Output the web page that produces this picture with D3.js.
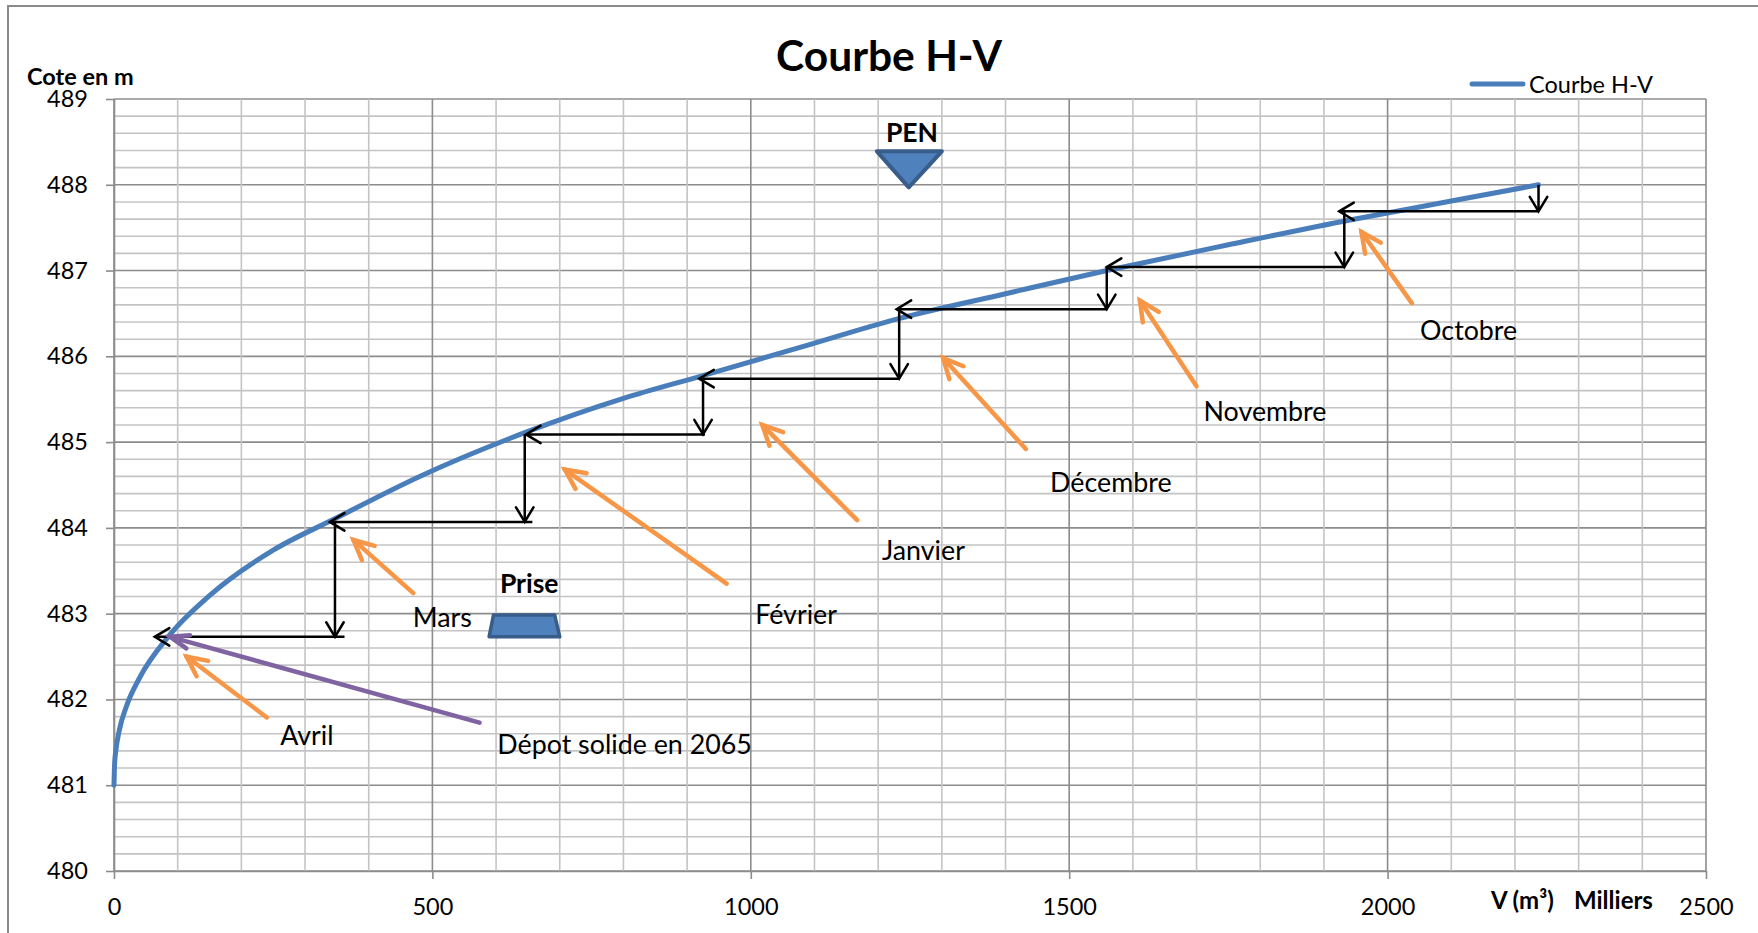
<!DOCTYPE html>
<html>
<head>
<meta charset="utf-8">
<script src="https://cdn.jsdelivr.net/npm/d3@7"></script>
<style>
  body { margin: 0; background: #fff; }
  text { font-family: Lato, "Liberation Sans", sans-serif; fill: #000; }
</style>
</head>
<body>
<script>
// courbe H-V : volume (milliers de m3) / cote (m)
var curveV = [0, 1, 3, 8, 20, 40, 85, 150, 250, 345, 480, 645, 800, 922, 1080, 1232, 1400, 1559, 1750, 1941, 2100, 2237];
var curveH = [481.0, 481.26, 481.41, 481.63, 481.93, 482.25, 482.73, 483.21, 483.74, 484.1, 484.6, 485.11, 485.51, 485.77, 486.11, 486.44, 486.73, 487.0, 487.3, 487.59, 487.81, 488.0];

var xTicks = [0, 500, 1000, 1500, 2000, 2500];
var yTicks = [480, 481, 482, 483, 484, 485, 486, 487, 488, 489];

// monthly steps (level drop then volume drop)
var months    = ["Octobre", "Novembre", "Décembre", "Janvier", "Février", "Mars", "Avril"];
var stepFromH = [488.0, 487.69, 487.04, 486.55, 485.74, 485.09, 484.07];
var stepToH   = [487.69, 487.04, 486.55, 485.74, 485.09, 484.07, 482.73];
var stepDropV = [2237, 1932, 1559, 1233, 925, 645, 347];
var stepEndV  = [2237, 1932, 1559, 1233, 928, 657, 362];
var stepTipV  = [1924, 1559, 1229, 919, 647, 339, 64];

// orange pointers + month labels
var pointerTailV = [2038, 1700, 1432, 1167, 962, 470, 240];
var pointerTailH = [486.62, 485.65, 484.92, 484.09, 483.35, 483.24, 481.79];
var pointerTipV  = [1959, 1611, 1302, 1018, 708, 376, 114];
var pointerTipH  = [487.45, 486.65, 485.98, 485.20, 484.68, 483.86, 482.50];
var labelV = [2051, 1711, 1470, 1206, 1007, 469, 261];
var labelH = [486.19, 485.25, 484.42, 483.63, 482.88, 482.85, 481.47];

// depot solide 2065
var depotV = [574, 88];
var depotH = [481.73, 482.73];

// prise / PEN shapes
var priseV = [596, 692, 700, 589];
var priseH = [482.985, 482.985, 482.73, 482.73];
var penV = [1198, 1300, 1248];
var penH = [488.39, 488.39, 487.97];

var W = 1758, H = 933;
var svg = d3.select("body").append("svg")
    .attr("width", W)
    .attr("height", H);

svg.append("rect")
    .attr("x", 0).attr("y", 0).attr("width", W).attr("height", H)
    .style("fill", "#fff");

// chart frame (cut at right / bottom)
svg.append("rect")
    .attr("x", 8).attr("y", 6).attr("width", 1800).attr("height", 1000)
    .style("fill", "none")
    .style("stroke", "#8a8a8a")
    .style("stroke-width", 2);

var x = d3.scaleLinear().domain([0, 2500]).range([114, 1706]);
var y = d3.scaleLinear().domain([480, 489]).range([871, 99]);

// grid
var grid = svg.append("g").attr("class", "grid");
grid.selectAll(".hminor")
    .data(y.ticks(45))
    .enter().append("line")
    .attr("x1", x(0)).attr("x2", x(2500))
    .attr("y1", function(d){ return y(d); })
    .attr("y2", function(d){ return y(d); })
    .style("stroke", function(d){ return Math.abs(d - Math.round(d)) < 1e-6 ? "#8c8c8c" : "#c4c4c4"; })
    .style("stroke-width", 1.6);
grid.selectAll(".vminor")
    .data(x.ticks(25))
    .enter().append("line")
    .attr("y1", y(480)).attr("y2", y(489))
    .attr("x1", function(d){ return x(d); })
    .attr("x2", function(d){ return x(d); })
    .style("stroke", function(d){ return d % 500 === 0 ? "#8c8c8c" : "#c4c4c4"; })
    .style("stroke-width", 1.6);

// axes
var yAxis = svg.append("g")
    .attr("transform", "translate(" + x(0) + ",0)")
    .call(d3.axisLeft(y).tickValues(yTicks).tickSize(8).tickSizeOuter(0).tickPadding(18));
var xAxis = svg.append("g")
    .attr("transform", "translate(0," + y(480) + ")")
    .call(d3.axisBottom(x).tickValues(xTicks).tickFormat(d3.format("d"))
        .tickSize(8).tickSizeOuter(0).tickPadding(19));
[yAxis, xAxis].forEach(function(a){
    a.select(".domain").style("stroke", "#8c8c8c").style("stroke-width", 1.6);
    a.selectAll(".tick line").style("stroke", "#8c8c8c").style("stroke-width", 1.6);
    a.selectAll(".tick text")
        .style("font-family", "Lato, 'Liberation Sans', sans-serif")
        .style("font-size", "23.5px")
        .style("fill", "#000");
});

// titles
svg.append("text")
    .attr("x", 889).attr("y", 71)
    .attr("text-anchor", "middle")
    .style("font-size", "42.5px").style("font-weight", "bold")
    .text("Courbe H-V");
svg.append("text")
    .attr("x", 27).attr("y", 85)
    .style("font-size", "23.5px").style("font-weight", "bold")
    .text("Cote en m");
svg.append("text")
    .attr("x", 1491).attr("y", 909)
    .style("font-size", "24px").style("font-weight", "bold")
    .text("V (m³)");
svg.append("text")
    .attr("x", 1574).attr("y", 909)
    .style("font-size", "24px").style("font-weight", "bold")
    .text("Milliers");

// legend
svg.append("line")
    .attr("x1", 1472).attr("x2", 1523).attr("y1", 84).attr("y2", 84)
    .style("stroke", "#4a7ebb").style("stroke-width", 5).style("stroke-linecap", "round");
svg.append("text")
    .attr("x", 1529).attr("y", 92.5)
    .style("font-size", "23.5px")
    .text("Courbe H-V");

// H-V curve
var curveData = curveV.map(function(v, i){ return [v, curveH[i]]; });
var line = d3.line()
    .x(function(d){ return x(d[0]); })
    .y(function(d){ return y(d[1]); })
    .curve(d3.curveMonotoneX);
svg.append("path")
    .datum(curveData)
    .attr("d", line)
    .style("fill", "none")
    .style("stroke", "#4a7ebb")
    .style("stroke-width", 5)
    .style("stroke-linecap", "round");

// open arrow head at tip, pointing away from "from"
function head(g, tip, from, len, ang, color, w){
    var a = Math.atan2(from[1] - tip[1], from[0] - tip[0]);
    var p1 = [tip[0] + len * Math.cos(a + ang), tip[1] + len * Math.sin(a + ang)];
    var p2 = [tip[0] + len * Math.cos(a - ang), tip[1] + len * Math.sin(a - ang)];
    g.append("path")
        .attr("d", "M" + p1 + "L" + tip + "L" + p2)
        .style("fill", "none")
        .style("stroke", color)
        .style("stroke-width", w)
        .style("stroke-linecap", "round")
        .style("stroke-linejoin", "miter");
}

// staircase of monthly operation
var steps = svg.append("g").attr("class", "steps");
months.forEach(function(m, i){
    var vx = x(stepDropV[i]);
    var top = [vx, y(stepFromH[i])], bot = [vx, y(stepToH[i])];
    steps.append("line")
        .attr("x1", top[0]).attr("y1", top[1]).attr("x2", bot[0]).attr("y2", bot[1])
        .style("stroke", "#000").style("stroke-width", 2.5);
    head(steps, bot, top, 17, 0.54, "#000", 2.5);
    var r = [x(stepEndV[i]), y(stepToH[i])], l = [x(stepTipV[i]), y(stepToH[i])];
    steps.append("line")
        .attr("x1", r[0]).attr("y1", r[1]).attr("x2", l[0]).attr("y2", l[1])
        .style("stroke", "#000").style("stroke-width", 2.5);
    head(steps, l, r, 17, 0.54, "#000", 2.5);
});

// orange pointers and month labels
var pointers = svg.append("g").attr("class", "pointers");
months.forEach(function(m, i){
    var tail = [x(pointerTailV[i]), y(pointerTailH[i])];
    var tip = [x(pointerTipV[i]), y(pointerTipH[i])];
    pointers.append("line")
        .attr("x1", tail[0]).attr("y1", tail[1]).attr("x2", tip[0]).attr("y2", tip[1])
        .style("stroke", "#f79646").style("stroke-width", 4.5).style("stroke-linecap", "round");
    head(pointers, tip, tail, 22, 0.45, "#f79646", 4.5);
    pointers.append("text")
        .attr("x", x(labelV[i])).attr("y", y(labelH[i]))
        .style("font-size", "26.8px")
        .text(m);
});

// depot solide
var dTail = [x(depotV[0]), y(depotH[0])], dTip = [x(depotV[1]), y(depotH[1])];
svg.append("line")
    .attr("x1", dTail[0]).attr("y1", dTail[1]).attr("x2", dTip[0]).attr("y2", dTip[1])
    .style("stroke", "#8064a2").style("stroke-width", 4.5).style("stroke-linecap", "round");
head(svg, dTip, dTail, 20, 0.35, "#8064a2", 4.5);
svg.append("text")
    .attr("x", x(602)).attr("y", y(481.36))
    .style("font-size", "26.8px")
    .text("Dépot solide en 2065");

// prise
var shapeLine = d3.line().x(function(d){ return x(d[0]); }).y(function(d){ return y(d[1]); });
svg.append("path")
    .attr("d", shapeLine(priseV.map(function(v, i){ return [v, priseH[i]]; })) + "Z")
    .style("fill", "#4f81bd").style("stroke", "#385d8a").style("stroke-width", 3.5)
    .style("stroke-linejoin", "round");
svg.append("text")
    .attr("x", x(606)).attr("y", y(483.24))
    .style("font-size", "26.5px").style("font-weight", "bold")
    .text("Prise");

// PEN
svg.append("path")
    .attr("d", shapeLine(penV.map(function(v, i){ return [v, penH[i]]; })) + "Z")
    .style("fill", "#4f81bd").style("stroke", "#385d8a").style("stroke-width", 4)
    .style("stroke-linejoin", "round");
svg.append("text")
    .attr("x", x(1253)).attr("y", y(488.5))
    .attr("text-anchor", "middle")
    .style("font-size", "26.5px").style("font-weight", "bold")
    .text("PEN");
</script>
</body>
</html>
